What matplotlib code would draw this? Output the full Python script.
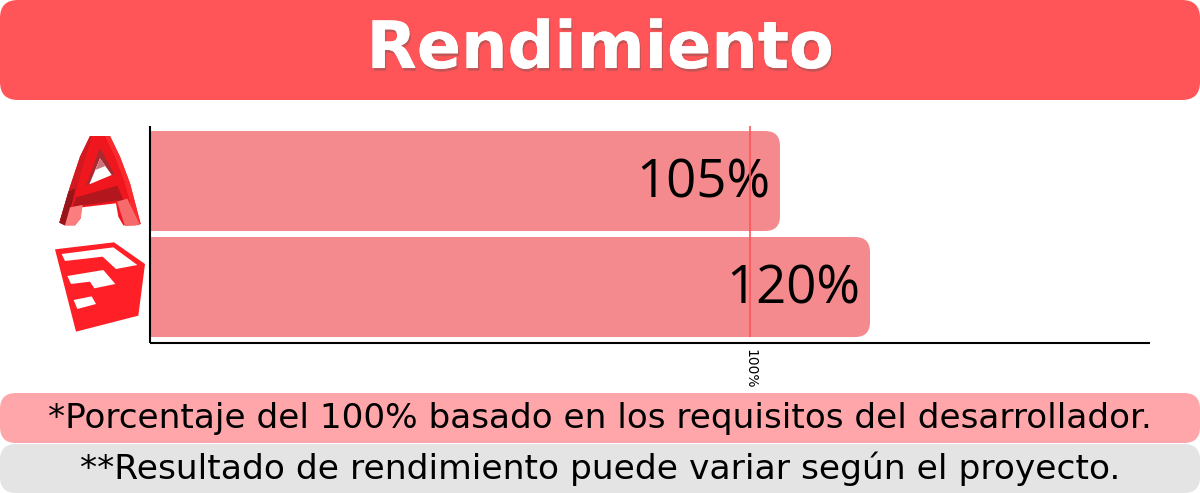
import matplotlib
matplotlib.use('Agg')
import matplotlib.pyplot as plt
import matplotlib.patheffects as pe
from matplotlib.patches import FancyBboxPatch, Polygon

categories = ['AutoCAD', 'SketchUp']
rendimiento = [105, 120]
valor_etiquetas = ['105%', '120%']
referencia = 100
titulo = 'Rendimiento'
nota1 = '*Porcentaje del 100% basado en los requisitos del desarrollador.'
nota2 = '**Resultado de rendimiento puede variar según el proyecto.'

ROJO = '#ff5558'
BARRA = '#f48a8d'
W, H = 1200, 493

plt.rcParams['font.family'] = ['DejaVu Sans']
fig = plt.figure(figsize=(W / 100, H / 100), dpi=100)

# capa de fondo en pixeles para banners e iconos
bg = fig.add_axes([0, 0, 1, 1])
bg.set_xlim(0, W)
bg.set_ylim(H, 0)
bg.axis('off')


def banner(y0, y1, color, r):
    bg.add_patch(FancyBboxPatch((0, y0), W, y1 - y0, boxstyle=f'round,pad=0,rounding_size={r}',
                                fc=color, ec='none'))


banner(0, 100, ROJO, 18)
banner(393, 443, '#ffa6aa', 16)
banner(444, 493, '#e4e4e4', 16)

t = bg.text(600, 68, titulo, color='white', fontsize=47, fontweight='bold', ha='center', va='baseline')
t.set_path_effects([pe.withSimplePatchShadow(offset=(1, -2), shadow_rgbFace='#555555', alpha=0.35), pe.Normal()])
bg.text(600, 428, nota1, color='black', fontsize=24.7, ha='center', va='baseline')
bg.text(600, 479, nota2, color='black', fontsize=24.8, ha='center', va='baseline')


def icono(puntos, color):
    # puntos medidos en el recorte ampliado 3x que empieza en (40, 120)
    bg.add_patch(Polygon([(40 + x / 3, 120 + y / 3) for x, y in puntos], closed=True, fc=color, ec='none'))


# logo A
icono([(150, 48), (210, 48), (240, 110), (270, 190), (302, 312), (285, 316), (250, 316), (235, 290), (228, 250),
       (125, 262), (122, 295), (105, 316), (75, 316), (58, 308), (90, 200), (120, 110)], '#f0161e')
icono([(150, 48), (156, 48), (125, 150), (105, 225), (92, 262), (75, 316), (58, 308), (90, 200), (120, 110)], '#d01a20')
icono([(105, 205), (100, 235), (92, 262), (75, 316), (58, 308), (85, 215)], '#96141a')
icono([(210, 48), (240, 110), (270, 190), (302, 312), (288, 314), (255, 190), (225, 110), (195, 48)], '#fb2a2f')
icono([(180, 84), (225, 165), (215, 165), (180, 115), (148, 193), (138, 197)], '#a82a30')
icono([(180, 115), (215, 165), (148, 193)], '#ffffff')
icono([(180, 115), (196, 138), (166, 150)], '#c9757a')
icono([(108, 232), (232, 197), (250, 240), (98, 260)], '#b3161d')
icono([(90, 262), (128, 255), (122, 295), (105, 316), (75, 316)], '#fb7d7d')
icono([(231, 245), (262, 236), (300, 315), (255, 318)], '#f76a6c')
# logo cubo
icono([(45, 388), (222, 367), (315, 432), (295, 587), (108, 635)], '#ff1f27')
icono([(65, 402), (220, 382), (292, 435), (228, 447), (188, 410), (75, 423)], '#ffffff')
icono([(82, 468), (190, 450), (226, 492), (163, 505), (150, 485), (93, 492)], '#ffffff')
icono([(101, 540), (155, 529), (168, 552), (112, 567)], '#ffffff')

# grafico de barras
ax = fig.add_axes([150 / W, 1 - 343 / H, 1000 / W, 217 / H])
ax.patch.set_alpha(0)
ax.set_xlim(0, 1000 / 6)
ax.set_ylim(1.528, -0.519)
alto = 100 / 106
sx = 6.0
sy = 106.0
for i, v in enumerate(rendimiento):
    caja = FancyBboxPatch((-10, i - alto / 2), v + 10, alto,
                          boxstyle=f'round,pad=0,rounding_size={15 / sx}',
                          mutation_aspect=sx / sy, fc=BARRA, ec='none')
    ax.add_patch(caja)
    ax.text(v - 10 / sx, i + 16 / sy, valor_etiquetas[i], fontsize=38, family='Open Sans',
            ha='right', va='baseline', color='black')
ax.vlines(referencia, -0.519, 1.472, color=ROJO, lw=1.2, zorder=5)

for s in ['top', 'right']:
    ax.spines[s].set_visible(False)
for s in ['left', 'bottom']:
    ax.spines[s].set_linewidth(1.5)
    ax.spines[s].set_color('black')
    ax.spines[s].set_capstyle('butt')
ax.set_yticks([])
ax.set_xticks([referencia])
ax.set_xticklabels(['100%'], rotation=-90, fontsize=10)
ax.tick_params(axis='x', length=0, pad=4)

fig.savefig('out.png', dpi=100)
